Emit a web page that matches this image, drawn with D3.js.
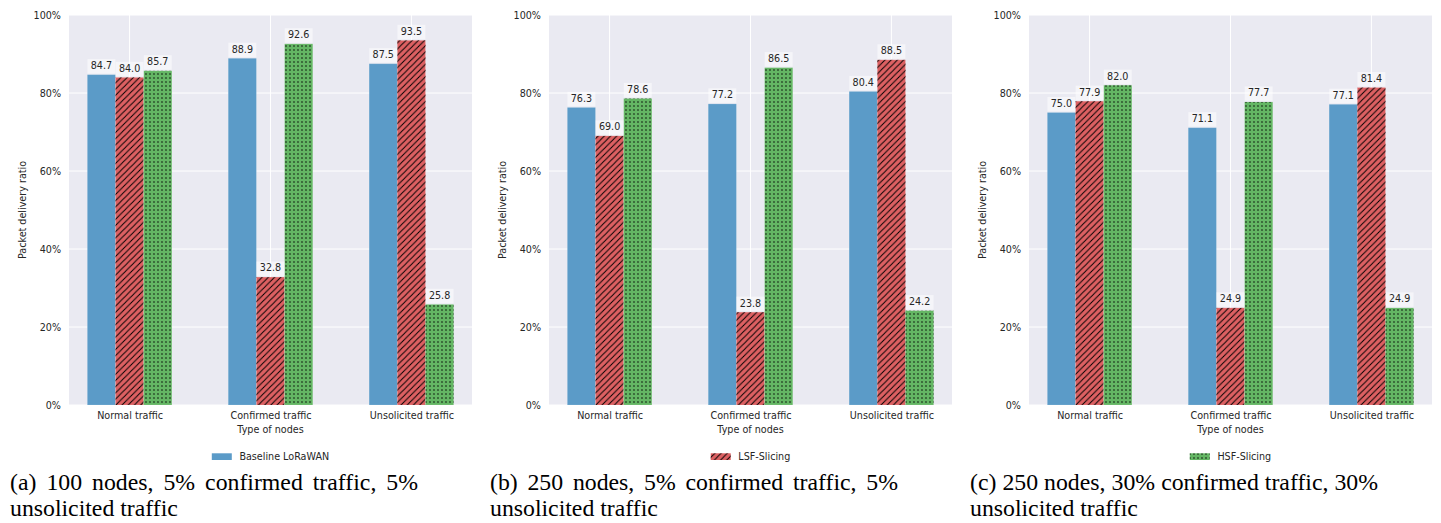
<!DOCTYPE html>
<html>
<head>
<meta charset="utf-8">
<script src="https://cdn.jsdelivr.net/npm/d3@7"></script>
<style>
  body { margin: 0; background: #fff; }
  svg text { font-family: "DejaVu Sans", sans-serif; }
  svg text.caption { font-family: "Liberation Serif", "Times New Roman", serif; }
</style>
</head>
<body>
<svg id="chart" width="1441" height="523"></svg>
<script>
// data
const categories = ["Normal traffic", "Confirmed traffic", "Unsolicited traffic"];
const seriesNames = ["Baseline LoRaWAN", "LSF-Slicing", "HSF-Slicing"];

const baselineA = [84.7, 88.9, 87.5];
const lsfA = [84.0, 32.8, 93.5];
const hsfA = [85.7, 92.6, 25.8];

const baselineB = [76.3, 77.2, 80.4];
const lsfB = [69.0, 23.8, 88.5];
const hsfB = [78.6, 86.5, 24.2];

const baselineC = [75.0, 71.1, 77.1];
const lsfC = [77.9, 24.9, 81.4];
const hsfC = [82.0, 77.7, 24.9];

const yTicks = [0, 0.2, 0.4, 0.6, 0.8, 1.0];

const captionsLine1 = [
  "(a) 100 nodes, 5% confirmed traffic, 5%",
  "(b) 250 nodes, 5% confirmed traffic, 5%",
  "(c) 250 nodes, 30% confirmed traffic, 30%"
];
const captionLine2 = "unsolicited traffic";

const panels = [
  [baselineA, lsfA, hsfA],
  [baselineB, lsfB, hsfB],
  [baselineC, lsfC, hsfC]
];

const colors = ["#5b9bc8", "#dd6062", "#64b664"];
const textColor = "#262626";
const fontSize = 9.6;

const margin = {left: 69, right: 472, top: 15, bottom: 405};
const panelW = 480;

const svg = d3.select("#chart");

// hatch patterns
const defs = svg.append("defs");
const hs = 6.2;
defs.append("pattern")
    .attr("id", "hatchLines")
    .attr("patternUnits", "userSpaceOnUse")
    .attr("width", hs).attr("height", hs)
  .append("path")
    .attr("d", `M0,${hs} L${hs},0 M${-hs/2},${hs/2} L${hs/2},${-hs/2} M${hs/2},${hs*1.5} L${hs*1.5},${hs/2}`)
    .attr("stroke", "#000")
    .attr("stroke-width", 0.95);

const ds = 4;
defs.append("pattern")
    .attr("id", "hatchDots")
    .attr("patternUnits", "userSpaceOnUse")
    .attr("width", ds).attr("height", ds)
  .append("circle")
    .attr("cx", ds/2).attr("cy", ds/2).attr("r", 0.72)
    .attr("fill", "#000");

const hatches = [null, "url(#hatchLines)", "url(#hatchDots)"];

const x = d3.scaleLinear().domain([-0.43, 2.43]).range([margin.left, margin.right]);
const sub = d3.scaleBand().domain(d3.range(seriesNames.length)).range([-0.3, 0.3]);
const y = d3.scaleLinear().domain([0, 1]).range([margin.bottom, margin.top]);

const drawPanel = (p) => {
  const g = svg.append("g").attr("transform", `translate(${p * panelW},0)`);
  const vals = panels[p];

  g.append("rect")
    .attr("x", margin.left).attr("y", margin.top)
    .attr("width", margin.right - margin.left)
    .attr("height", margin.bottom - margin.top)
    .attr("fill", "#eaeaf2");

  // grid
  g.selectAll(".hgrid").data(yTicks).enter().append("line")
    .attr("x1", margin.left).attr("x2", margin.right)
    .attr("y1", d => y(d)).attr("y2", d => y(d))
    .attr("stroke", "#fff").attr("stroke-width", 1);
  g.selectAll(".vgrid").data(categories).enter().append("line")
    .attr("x1", (d, i) => x(i)).attr("x2", (d, i) => x(i))
    .attr("y1", margin.top).attr("y2", margin.bottom)
    .attr("stroke", "#fff").attr("stroke-width", 1);

  // axes
  const yAxis = d3.axisLeft(y).tickValues(yTicks).tickFormat(d3.format(".0%"))
    .tickSize(0).tickPadding(8);
  const ya = g.append("g").attr("transform", `translate(${margin.left},0)`).call(yAxis);
  ya.select(".domain").remove();
  ya.selectAll("text").attr("fill", textColor).style("font-size", fontSize + "px");

  const xAxis = d3.axisBottom(x).tickValues([0, 1, 2]).tickFormat(i => categories[i])
    .tickSize(0).tickPadding(7.2);
  const xa = g.append("g").attr("transform", `translate(0,${margin.bottom})`).call(xAxis);
  xa.select(".domain").remove();
  xa.selectAll("text").attr("fill", textColor).style("font-size", fontSize + "px");

  const cx = (margin.left + margin.right) / 2;
  g.append("text")
    .text("Type of nodes")
    .attr("x", cx).attr("y", 433)
    .attr("text-anchor", "middle")
    .attr("fill", textColor)
    .style("font-size", fontSize + "px");

  g.append("text")
    .text("Packet delivery ratio")
    .attr("transform", "translate(23,210) rotate(-90)")
    .attr("dy", "0.35em")
    .attr("text-anchor", "middle")
    .attr("fill", textColor)
    .style("font-size", fontSize + "px");

  // bars
  vals.forEach((series, s) => {
    const bw = x(sub.bandwidth()) - x(0);
    g.selectAll(".bar" + s).data(series).enter().append("rect")
      .attr("x", (d, i) => x(i + sub(s)))
      .attr("y", d => y(d / 100))
      .attr("width", bw)
      .attr("height", d => y(0) - y(d / 100))
      .attr("fill", colors[s])
      .attr("stroke", "rgba(255,255,255,0.18)")
      .attr("stroke-width", 0.8);
    if (hatches[s]) {
      g.selectAll(".hatch" + s).data(series).enter().append("rect")
        .attr("x", (d, i) => x(i + sub(s)))
        .attr("y", d => y(d / 100))
        .attr("width", bw)
        .attr("height", d => y(0) - y(d / 100))
        .attr("fill", hatches[s]);
    }
  });

  // value labels
  vals.forEach((series, s) => {
    series.forEach((v, i) => {
      const lx = x(i + sub(s) + sub.bandwidth() / 2);
      const ly = y(v / 100) - 5.6;
      const box = g.append("rect").attr("fill", "#fff").attr("opacity", 0.5);
      const t = g.append("text")
        .text(v.toFixed(1))
        .attr("x", lx).attr("y", ly)
        .attr("text-anchor", "middle")
        .attr("fill", textColor)
        .style("font-size", fontSize + "px");
      const w = t.node().getComputedTextLength();
      box.attr("x", lx - w / 2 - 3.3).attr("y", ly - 10)
        .attr("width", w + 6.6).attr("height", 14.6);
    });
  });

  // legend (one entry per panel)
  const lg = g.append("g");
  const lt = lg.append("text")
    .text(seriesNames[p])
    .attr("y", 459.9)
    .attr("fill", textColor)
    .style("font-size", fontSize + "px");
  const tw = lt.node().getComputedTextLength();
  const lx0 = cx - (27.6 + tw) / 2;
  lt.attr("x", lx0 + 27.6);
  lg.append("rect").attr("x", lx0).attr("y", 453.3).attr("width", 20).attr("height", 6.7)
    .attr("fill", colors[p]);
  if (hatches[p]) {
    lg.append("rect").attr("x", lx0).attr("y", 453.3).attr("width", 20).attr("height", 6.7)
      .attr("fill", hatches[p]);
  }

  // caption: size fitted so the second line spans like the reference, first line justified
  const c2 = g.append("text")
    .attr("class", "caption")
    .text(captionLine2)
    .attr("x", 10).attr("y", 516)
    .style("font-size", "24px")
    .attr("fill", "#000");
  const cs = 24 * 168 / c2.node().getComputedTextLength();
  c2.style("font-size", cs + "px");
  const c1 = g.append("text")
    .attr("class", "caption")
    .text(captionsLine1[p])
    .attr("x", 10).attr("y", 490)
    .style("font-size", cs + "px")
    .attr("fill", "#000");
  const natural = c1.node().getComputedTextLength();
  const gaps = captionsLine1[p].split(" ").length - 1;
  c1.attr("word-spacing", (408 - natural) / gaps);
};

panels.forEach((d, p) => drawPanel(p));
</script>
</body>
</html>
